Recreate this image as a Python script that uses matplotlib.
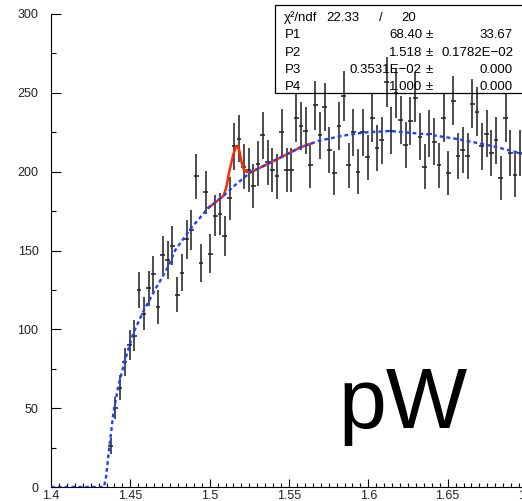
import numpy as np
import matplotlib
matplotlib.use('Agg')
import matplotlib.pyplot as plt
from matplotlib.ticker import MultipleLocator, FuncFormatter
from matplotlib.patches import Rectangle

# histogram: bins of 0.003 GeV starting at 1.4, first filled bin is #12
bin_width = 0.003
first_bin = 12
counts = [26, 50, 63, 79, 90, 96, 125, 110, 126, 135,
          114, 147, 144, 153, 122, 136, 157, 163, 197, 142,
          187, 148, 172, 173, 159, 183, 216, 221, 203, 201,
          191, 205, 223, 206, 201, 197, 225, 201, 201, 234,
          229, 226, 204, 242, 223, 241, 214, 199, 229, 248,
          204, 225, 200, 225, 209, 234, 215, 220, 257, 226,
          250, 233, 217, 232, 247, 222, 203, 224, 219, 204,
          234, 199, 245, 210, 214, 210, 243, 238, 216, 224,
          212, 220, 196, 234, 212, 198, 212, 217]

# background fit (blue) sampled along the curve
bg_x = [1.4, 1.4334, 1.4347, 1.4368, 1.4393, 1.4424, 1.4467, 1.4519, 1.4582,
        1.4656, 1.4740, 1.4782, 1.4876, 1.4992, 1.5086, 1.5149, 1.5255,
        1.5381, 1.5507, 1.5570, 1.5685, 1.5833, 1.5969, 1.6137, 1.6369,
        1.6568, 1.6779, 1.6968, 1.7]
bg_y = [0, 0, 6.5, 25.6, 46.8, 63.8, 80.7, 97.7, 111.4,
        125.2, 140.0, 150.0, 163.3, 177.1, 184.5, 190.5, 199.4,
        205.7, 212.1, 215.3, 219.5, 222.7, 224.8, 225.8, 223.7,
        220.6, 216.3, 211.5, 211.0]

# signal + background (red) over the fit range
pk_x = [1.4992, 1.5086, 1.5105, 1.5118, 1.5135, 1.5149, 1.5165, 1.5175,
        1.5188, 1.5202, 1.5215, 1.5230, 1.5255, 1.5381, 1.5507, 1.5570, 1.5644]
pk_y = [177.1, 184.5, 190.0, 197.2, 205.0, 211.0, 215.5, 216.3,
        213.0, 205.7, 201.5, 200.0, 199.4, 205.7, 212.1, 215.3, 218.0]

# fit statistics
stat_names = ['P1', 'P2', 'P3', 'P4']
stat_vals = ['68.40', '1.518', '0.3531E\u221202', '1.000']
stat_errs = ['33.67', '0.1782E\u221202', '0.000', '0.000']
chi2, ndf = '22.33', '20'

W, H = 522, 501
plt.rcParams['font.family'] = ['Liberation Sans', 'DejaVu Sans']

fig = plt.figure(figsize=(W / 100, H / 100), dpi=100)


def fpos(px, py):
    return px / W, 1 - py / H


# axes run past the right edge of the canvas, like the original pad
ax = fig.add_axes([51 / W, 14 / H, 476 / W, 473 / H])

centers = 1.4 + bin_width * (first_bin + 0.5 + np.arange(len(counts)))
errs = np.sqrt(counts)
ax.errorbar(centers, counts, yerr=errs, xerr=bin_width / 2, fmt='none',
            ecolor='#262626', elinewidth=1.15, capsize=0, zorder=2)

ax.plot(pk_x, pk_y, color='#ff2a00', lw=1.8, zorder=3)
ax.plot(bg_x, bg_y, color='#1f3fff', lw=1.7, dashes=(1.6, 1.3), zorder=4)

ax.set_xlim(1.4, 1.7)
ax.set_ylim(0, 300)
for s in ['top', 'right']:
    ax.spines[s].set_visible(False)
for s in ['left', 'bottom']:
    ax.spines[s].set_linewidth(0.8)

ax.xaxis.set_major_locator(MultipleLocator(0.05))
ax.xaxis.set_minor_locator(MultipleLocator(0.005))
ax.yaxis.set_major_locator(MultipleLocator(50))
ax.yaxis.set_minor_locator(MultipleLocator(25))
ax.xaxis.set_major_formatter(FuncFormatter(lambda v, p: '%g' % round(v, 3)))
ax.tick_params(axis='x', which='major', direction='in', length=6, width=0.8,
               labelsize=9, pad=2, labelcolor='#222222')
ax.tick_params(axis='x', which='minor', direction='in', length=3, width=0.8)
ax.tick_params(axis='y', which='major', direction='in', length=7, width=0.8,
               labelsize=9, pad=9, labelcolor='#222222')
ax.tick_params(axis='y', which='minor', direction='in', length=3.5, width=0.8)

# stats box
x0, y0 = fpos(275, 93)
box = Rectangle((x0, y0), 1.1 - x0, (93 - 5) / H, transform=fig.transFigure,
                fill=False, ec='black', lw=0.9, zorder=1)
fig.patches.append(box)

fs = 9.5
rows = [18, 35, 53, 70, 87]
fig.text(*fpos(284, rows[0]), '\u03c7\u00b2/ndf', fontsize=fs, va='center')
fig.text(*fpos(326, rows[0]), chi2, fontsize=fs, va='center')
fig.text(*fpos(381, rows[0]), '/', fontsize=fs, va='center', ha='center')
fig.text(*fpos(416, rows[0]), ndf, fontsize=fs, va='center', ha='right')
for i, name in enumerate(stat_names):
    yy = rows[i + 1]
    fig.text(*fpos(285, yy), name, fontsize=fs, va='center')
    fig.text(*fpos(422, yy), stat_vals[i], fontsize=fs, va='center', ha='right')
    fig.text(*fpos(429, yy), '\u00b1', fontsize=fs, va='center', ha='center')
    fig.text(*fpos(513, yy), stat_errs[i], fontsize=fs, va='center', ha='right')

fig.text(*fpos(338, 428), 'pW', fontsize=62, va='baseline', ha='left')

fig.savefig('out.png', dpi=100)
